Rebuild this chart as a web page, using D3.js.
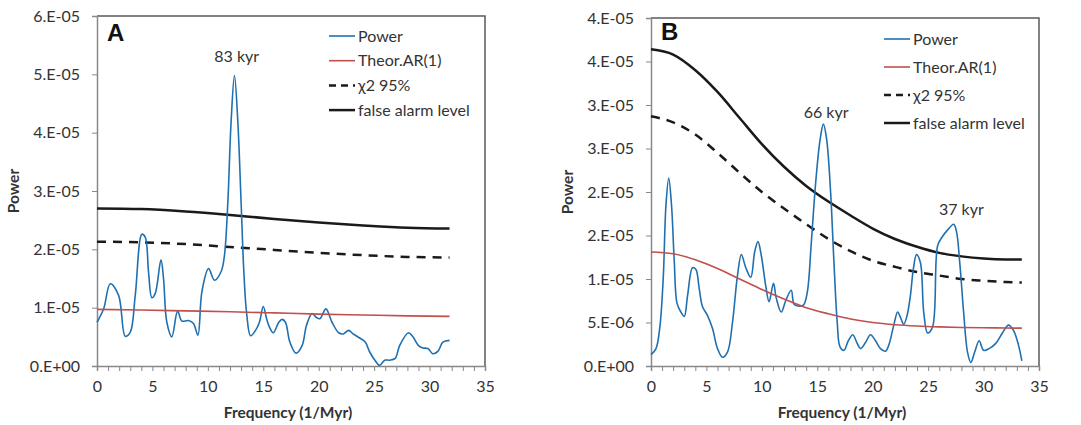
<!DOCTYPE html>
<html>
<head>
<meta charset="utf-8">
<script src="https://cdn.jsdelivr.net/npm/d3@7"></script>
<style>
  body { margin: 0; background: #fff; }
  svg text { font-family: Lato, "Open Sans", sans-serif; fill: #333; }
  .tick text { font-size: 16px; }
  .axis-title { font-size: 15.5px; font-weight: bold; }
  .legend text, .note { font-size: 16px; }
  .panel-label { font-family: "Liberation Sans", Arial, sans-serif !important; font-size: 24px; font-weight: bold; fill: #111 !important; }
</style>
</head>
<body>
<div id="chart"></div>
<script>
// ---- panel A data (power in units of 1e-5) ----
const freqA = [0, 0.6, 1.2, 1.95, 2.55, 3.0, 3.45, 4.05, 4.35, 4.65, 4.95, 5.25, 5.77, 6.0, 6.3, 6.75, 7.27, 7.66, 8.26, 8.7, 9.1, 9.46, 10.06, 10.6, 11.2, 11.5, 11.8, 12.1, 12.4, 12.7, 13.0, 13.25, 13.5, 13.85, 14.3, 14.65, 15.0, 15.3, 15.55, 15.9, 16.4, 16.7, 17.0, 17.4, 17.95, 18.5, 18.9, 19.4, 19.75, 20.1, 20.65, 21.2, 21.8, 22.2, 22.7, 23.1, 23.7, 24.2, 24.6, 25.1, 25.5, 25.95, 26.4, 26.9, 27.3, 28.1, 28.5, 29.0, 29.4, 29.85, 30.3, 30.75, 31.2, 31.8];
const powerA = [0.75, 0.98, 1.41, 1.21, 0.51, 0.58, 1.21, 2.26, 2.21, 1.61, 1.17, 1.24, 1.82, 1.50, 0.75, 0.50, 0.94, 0.77, 0.78, 0.73, 0.53, 1.27, 1.67, 1.47, 1.62, 1.9, 2.8, 4.2, 4.98, 4.2, 2.8, 1.6, 0.9, 0.52, 0.61, 0.75, 1.02, 0.81, 0.67, 0.57, 0.75, 0.80, 0.75, 0.41, 0.22, 0.35, 0.70, 0.90, 0.84, 0.81, 0.98, 0.75, 0.57, 0.55, 0.61, 0.55, 0.48, 0.41, 0.24, 0.09, 0.01, 0.10, 0.10, 0.13, 0.35, 0.57, 0.50, 0.35, 0.31, 0.30, 0.21, 0.25, 0.41, 0.44];
const levelFreqA = [0, 4, 8, 12, 16, 20, 24, 28, 31.8];
const arA = [0.97, 0.96, 0.945, 0.93, 0.91, 0.89, 0.875, 0.86, 0.85];
const chiA = [2.13, 2.12, 2.09, 2.04, 1.99, 1.94, 1.90, 1.87, 1.86];
const falseA = [2.70, 2.69, 2.65, 2.59, 2.52, 2.46, 2.41, 2.37, 2.355];

// ---- panel B data ----
const freqB = [0, 0.45, 0.8, 1.1, 1.35, 1.6, 1.85, 2.1, 2.35, 2.7, 3.0, 3.3, 3.75, 4.05, 4.35, 4.65, 5.1, 5.55, 6.0, 6.45, 6.9, 7.35, 7.8, 8.15, 8.55, 9.0, 9.35, 9.65, 9.95, 10.35, 10.65, 11.05, 11.3, 11.75, 12.15, 12.65, 12.9, 13.25, 13.75, 14.1, 14.45, 14.85, 15.25, 15.55, 15.85, 16.2, 16.5, 16.8, 17.05, 17.4, 17.8, 18.2, 18.6, 18.9, 19.35, 19.8, 20.25, 20.7, 21.15, 21.45, 21.9, 22.25, 22.5, 22.8, 23.1, 23.4, 23.65, 23.95, 24.3, 24.6, 24.95, 25.4, 25.85, 26.25, 26.8, 27.3, 27.55, 27.85, 28.2, 28.55, 28.85, 29.2, 29.6, 30.0, 30.5, 31.1, 31.7, 32.25, 32.7, 33.15, 33.45];
const powerB = [0.13, 0.20, 0.45, 1.0, 1.85, 2.16, 1.85, 1.2, 0.72, 0.62, 0.57, 0.81, 1.13, 1.11, 0.89, 0.68, 0.58, 0.43, 0.20, 0.10, 0.16, 0.50, 1.04, 1.28, 1.13, 1.02, 1.31, 1.43, 1.27, 0.92, 0.74, 0.95, 0.78, 0.62, 0.75, 0.87, 0.71, 0.69, 0.70, 0.85, 1.4, 2.1, 2.6, 2.78, 2.6, 2.0, 1.2, 0.5, 0.22, 0.18, 0.29, 0.36, 0.26, 0.20, 0.27, 0.36, 0.29, 0.20, 0.17, 0.24, 0.47, 0.62, 0.56, 0.48, 0.58, 0.81, 1.10, 1.28, 1.19, 0.62, 0.38, 0.45, 1.38, 1.48, 1.57, 1.63, 1.55, 1.19, 0.62, 0.16, 0.04, 0.16, 0.29, 0.18, 0.20, 0.26, 0.38, 0.47, 0.41, 0.24, 0.06];
const levelFreqB = [0, 2, 4, 6, 8, 10, 12, 14, 16, 18, 20, 22, 24, 26, 28, 30, 32, 33.45];
const arB = [1.31, 1.29, 1.22, 1.12, 1.00, 0.88, 0.77, 0.67, 0.60, 0.54, 0.50, 0.475, 0.46, 0.45, 0.443, 0.44, 0.437, 0.435];
const chiB = [2.87, 2.80, 2.66, 2.45, 2.22, 2.00, 1.81, 1.63, 1.46, 1.32, 1.21, 1.14, 1.08, 1.04, 1.00, 0.98, 0.965, 0.96];
const falseB = [3.64, 3.58, 3.40, 3.15, 2.85, 2.55, 2.29, 2.07, 1.89, 1.73, 1.58, 1.46, 1.37, 1.30, 1.26, 1.235, 1.225, 1.225];

// ---- ticks / labels ----
const xTicks = [0, 5, 10, 15, 20, 25, 30, 35];
const yTicksA = [0, 1, 2, 3, 4, 5, 6];
const yLabelsA = ["0.E+00", "1.E-05", "2.E-05", "3.E-05", "4.E-05", "5.E-05", "6.E-05"];
const yTicksB = [0, 0.5, 1, 1.5, 2, 2.5, 3, 3.5, 4];
const yLabelsB = ["0.E+00", "5.E-06", "1.E-05", "2.E-05", "2.E-05", "3.E-05", "3.E-05", "4.E-05", "4.E-05"];
const legendNames = ["Power", "Theor.AR(1)", "\u03c72 95%", "false alarm level"];

const colors = { power: "#2070b0", ar: "#c0504d", level: "#1a1a1a" };

const svg = d3.select("#chart").append("svg")
    .attr("width", 1081)
    .attr("height", 425);

function drawPanel(p) {
    const x = d3.scaleLinear().domain([0, 35]).range([p.left, p.right]);
    const y = d3.scaleLinear().domain([0, p.yMax]).range([p.bottom, p.top]);
    const g = svg.append("g");

    // frame: top and right border
    g.append("path")
        .attr("d", `M${p.left},${p.top}H${p.right}V${p.bottom}`)
        .attr("fill", "none").attr("stroke", "#595959").attr("stroke-width", 1.5);

    // minor x ticks every 1
    const xAxis = g.append("g")
        .attr("transform", `translate(0,${p.bottom})`)
        .call(d3.axisBottom(x).tickValues(d3.range(0, 36)).tickSize(5)
            .tickFormat(d => xTicks.includes(d) ? d : ""));
    xAxis.select(".domain").attr("stroke", "#888").attr("stroke-width", 1.5);
    xAxis.selectAll(".tick line").attr("stroke", "#888");
    xAxis.selectAll(".tick text").attr("dy", "1.1em");

    const yAxis = g.append("g")
        .attr("transform", `translate(${p.left},0)`)
        .call(d3.axisLeft(y).tickValues(p.yTicks).tickSize(5).tickPadding(12)
            .tickFormat((d, i) => p.yLabels[i]));
    yAxis.select(".domain").attr("stroke", "#888").attr("stroke-width", 1.5);
    yAxis.selectAll(".tick line").attr("stroke", "#888");

    const lineOf = (fs, vs, curve) => d3.line()
        .x((d, i) => x(fs[i]))
        .y(d => y(d))
        .curve(curve)(vs);

    g.append("path").attr("d", lineOf(p.levelFreq, p.falseLvl, d3.curveMonotoneX))
        .attr("fill", "none").attr("stroke", colors.level).attr("stroke-width", 2.5);
    g.append("path").attr("d", lineOf(p.levelFreq, p.chi, d3.curveMonotoneX))
        .attr("fill", "none").attr("stroke", colors.level).attr("stroke-width", 2.5)
        .attr("stroke-dasharray", "9,7");
    g.append("path").attr("d", lineOf(p.freq, p.power, d3.curveCatmullRom.alpha(0.5)))
        .attr("fill", "none").attr("stroke", colors.power).attr("stroke-width", 1.6);
    g.append("path").attr("d", lineOf(p.levelFreq, p.ar, d3.curveMonotoneX))
        .attr("fill", "none").attr("stroke", colors.ar).attr("stroke-width", 1.6);

    // panel letter
    g.append("text").attr("class", "panel-label")
        .attr("x", p.left + 10).attr("y", p.labelY).text(p.label);

    // peak notes
    p.notes.forEach(n => {
        g.append("text").attr("class", "note").attr("text-anchor", "middle")
            .attr("x", x(n.f)).attr("y", y(n.v)).text(n.text);
    });

    // legend
    const styles = [
        { stroke: colors.power, w: 1.6, dash: null },
        { stroke: colors.ar, w: 1.6, dash: null },
        { stroke: colors.level, w: 2.5, dash: "7,5" },
        { stroke: colors.level, w: 2.5, dash: null }
    ];
    const lg = g.append("g").attr("class", "legend");
    legendNames.forEach((name, i) => {
        const ly = p.legY + i * p.legStep;
        lg.append("line")
            .attr("x1", p.legX).attr("x2", p.legX + 26)
            .attr("y1", ly).attr("y2", ly)
            .attr("stroke", styles[i].stroke).attr("stroke-width", styles[i].w)
            .attr("stroke-dasharray", styles[i].dash);
        lg.append("text").attr("x", p.legX + 29).attr("y", ly).attr("dy", "0.35em").text(name);
    });

    // axis titles
    g.append("text").attr("class", "axis-title").attr("text-anchor", "middle")
        .attr("x", (p.left + p.right) / 2 - 3).attr("y", 418).text("Frequency (1/Myr)");
    g.append("text").attr("class", "axis-title").attr("text-anchor", "middle")
        .attr("transform", `translate(${p.left - 78},${(p.top + p.bottom) / 2}) rotate(-90)`)
        .text("Power");
}

drawPanel({
    label: "A", labelY: 41, left: 97, right: 485, top: 16, bottom: 366, yMax: 6,
    yTicks: yTicksA, yLabels: yLabelsA,
    freq: freqA, power: powerA, levelFreq: levelFreqA, ar: arA, chi: chiA, falseLvl: falseA,
    legX: 329, legY: 36, legStep: 24.7,
    notes: [{ f: 12.6, v: 5.21, text: "83 kyr" }]
});

drawPanel({
    label: "B", labelY: 40, left: 651, right: 1039, top: 18, bottom: 366, yMax: 4,
    yTicks: yTicksB, yLabels: yLabelsB,
    freq: freqB, power: powerB, levelFreq: levelFreqB, ar: arB, chi: chiB, falseLvl: falseB,
    legX: 884, legY: 39, legStep: 28,
    notes: [{ f: 15.8, v: 2.85, text: "66 kyr" }, { f: 28.0, v: 1.73, text: "37 kyr" }]
});
</script>
</body>
</html>
